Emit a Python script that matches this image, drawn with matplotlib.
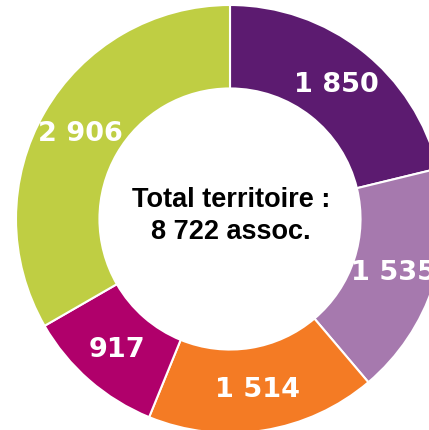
import matplotlib
matplotlib.use('Agg')
import matplotlib.pyplot as plt
import numpy as np

# Données du graphique
categories = ['A', 'B', 'C', 'D', 'E']
valeurs = [1850, 1535, 1514, 917, 2906]
etiquettes = ['1 850', '1 535', '1 514', '917', '2 906']
couleurs = ['#5c1b70', '#a679ae', '#f47b24', '#b0006b', '#bfce43']
titre_centre = 'Total territoire :\n8 722 assoc.'

fig = plt.figure(figsize=(4.29, 4.31), dpi=100)
ax = fig.add_axes([0, 0, 1, 1])

# Le donut dépasse du cadre à droite et en bas
centre = (230, 211)
rayon = 214
largeur = 0.39

wedges, _ = ax.pie(valeurs, colors=couleurs, startangle=90, counterclock=False,
                   radius=rayon, center=centre,
                   wedgeprops=dict(width=rayon * largeur, edgecolor='white', linewidth=1.5))

# Étiquettes au milieu de l'anneau
total = sum(valeurs)
r_lab = rayon * (1 - largeur / 2)
cumul = 0
for v, lab in zip(valeurs, etiquettes):
    milieu = 90 - (cumul + v / 2) / total * 360
    cumul += v
    x = centre[0] + r_lab * np.cos(np.radians(milieu))
    y = centre[1] + r_lab * np.sin(np.radians(milieu))
    ax.text(x, y, lab, ha='center', va='center', color='white',
            fontsize=19.5, fontweight='bold', family='DejaVu Sans')

ax.text(centre[0] + 1, centre[1] + 4, titre_centre, ha='center', va='center',
        fontsize=19.5, fontweight='bold', family='Liberation Sans', linespacing=1.3)

ax.set_xlim(0, 429)
ax.set_ylim(0, 431)
ax.set_aspect('equal')
ax.axis('off')

plt.savefig('out.png', dpi=100)
